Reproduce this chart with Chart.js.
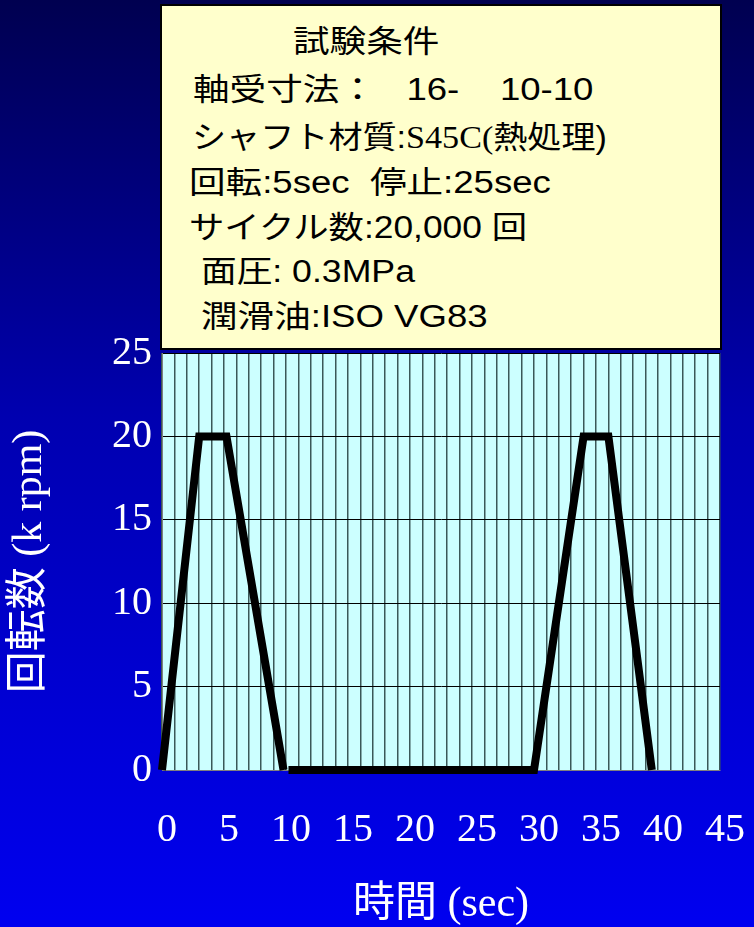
<!DOCTYPE html>
<html lang="ja">
<head>
<meta charset="UTF-8">
<title>回転数パターン</title>
<script src="https://cdn.jsdelivr.net/npm/chart.js"></script>
<style>
    html, body {
        margin: 0;
        padding: 0;
    }
    body {
        width: 754px;
        height: 927px;
        position: relative;
        overflow: hidden;
        background: linear-gradient(to bottom, #000050 0%, #0000b0 45%, #0000f0 100%);
    }
    #wrap {
        position: absolute;
        left: 0;
        top: 0;
        width: 754px;
        height: 927px;
    }
    .cond {
        position: absolute;
        left: 160px;
        top: 4px;
        width: 558px;
        height: 342px;
        background: #ffffcc;
        border: 2px solid #000;
        font-family: "Liberation Sans", "Noto Sans CJK JP", sans-serif;
        font-size: 31px;
        color: #000;
    }
    .cond div {
        position: absolute;
        white-space: pre;
        line-height: 40px;
        transform: scaleX(1.18);
        transform-origin: left center;
    }
    .serif {
        font-family: "Liberation Serif", "Noto Sans CJK JP", serif;
    }
</style>
</head>
<body>
<div id="wrap"><canvas id="c" width="754" height="927"></canvas></div>
<div class="cond">
    <div style="left:131px; top:16px;">試験条件</div>
    <div style="left:31px; top:64px;">軸受寸法：   16-    10-10</div>
    <div style="left:30px; top:112px; transform: scaleX(1.1);">シャフト材質:<span class="serif">S45C(</span>熱処理)</div>
    <div style="left:27px; top:157px;">回転:5sec  停止:25sec</div>
    <div style="left:27px; top:202px; transform: scaleX(1.14);">サイクル数:20,000 回</div>
    <div style="left:39px; top:246px; transform: scaleX(1.15);">面圧: 0.3MPa</div>
    <div style="left:39px; top:291px;">潤滑油:ISO VG83</div>
</div>
<script>
// 時間 (sec) と回転数 (k rpm)、null で線を切る
const timeSec = [0, 3, 5.2, 9.8, 10, 10.2, 30, 34, 36, 39.5];
const speedK  = [0, 20, 20, 0, null, 0, 0, 20, 20, 0];

const xTickLabels = ['0', '5', '10', '15', '20', '25', '30', '35', '40', '45'];
const yTickLabels = ['0', '5', '10', '15', '20', '25'];

const points = timeSec.map(function(t, i) { return {x: t, y: speedK[i]}; });

const plotBg = {
    id: 'plotBg',
    beforeDraw(chart) {
        const a = chart.chartArea;
        const ctx = chart.ctx;
        ctx.save();
        ctx.fillStyle = '#ccffff';
        ctx.fillRect(a.left, a.top, a.right - a.left, a.bottom - a.top);
        ctx.restore();
    }
};

const white = '#ffffff';
const serifFont = '"Liberation Serif", "Noto Sans CJK JP", serif';

new Chart(document.getElementById('c'), {
    type: 'line',
    data: {
        datasets: [{
            data: points,
            borderColor: '#000000',
            borderWidth: 8,
            pointRadius: 0,
            tension: 0,
            spanGaps: false,
            clip: false,
            borderJoinStyle: 'miter',
            borderCapStyle: 'butt'
        }]
    },
    options: {
        responsive: false,
        animation: false,
        layout: { padding: { top: 353, right: 34, left: 0, bottom: 0 } },
        plugins: { legend: { display: false }, tooltip: { enabled: false } },
        scales: {
            x: {
                type: 'linear',
                min: 0,
                max: 45,
                afterFit(s) {
                    s.height = 157;
                    s.paddingLeft = 0;
                    s.paddingRight = 0;
                },
                border: { display: true, color: '#808080' },
                grid: {
                    color: '#3a5858',
                    lineWidth: 1.5,
                    drawTicks: false
                },
                ticks: {
                    stepSize: 1,
                    autoSkip: false,
                    maxRotation: 0,
                    color: white,
                    padding: 36,
                    labelOffset: 5,
                    font: { family: serifFont, size: 40 },
                    callback: function(v) {
                        return v % 5 === 0 ? xTickLabels[v / 5] : '';
                    }
                },
                title: {
                    display: true,
                    text: '時間 (sec)',
                    color: white,
                    font: { family: serifFont, size: 42, lineHeight: 1 },
                    padding: { top: 0, bottom: 1 }
                }
            },
            y: {
                min: 0,
                max: 25,
                afterFit(s) {
                    s.width = 162;
                    s.paddingTop = 0;
                    s.paddingBottom = 0;
                },
                border: { display: true, color: '#808080' },
                grid: { color: '#000000', lineWidth: 1, drawTicks: false },
                ticks: {
                    stepSize: 5,
                    color: white,
                    padding: 10,
                    font: { family: serifFont, size: 40 },
                    callback: function(v) { return yTickLabels[v / 5]; }
                },
                title: {
                    display: true,
                    text: '回転数 (k rpm)',
                    color: white,
                    font: { family: serifFont, size: 42, lineHeight: 1 },
                    padding: { top: 9, bottom: 0 }
                }
            }
        }
    },
    plugins: [plotBg]
});
</script>
</body>
</html>
